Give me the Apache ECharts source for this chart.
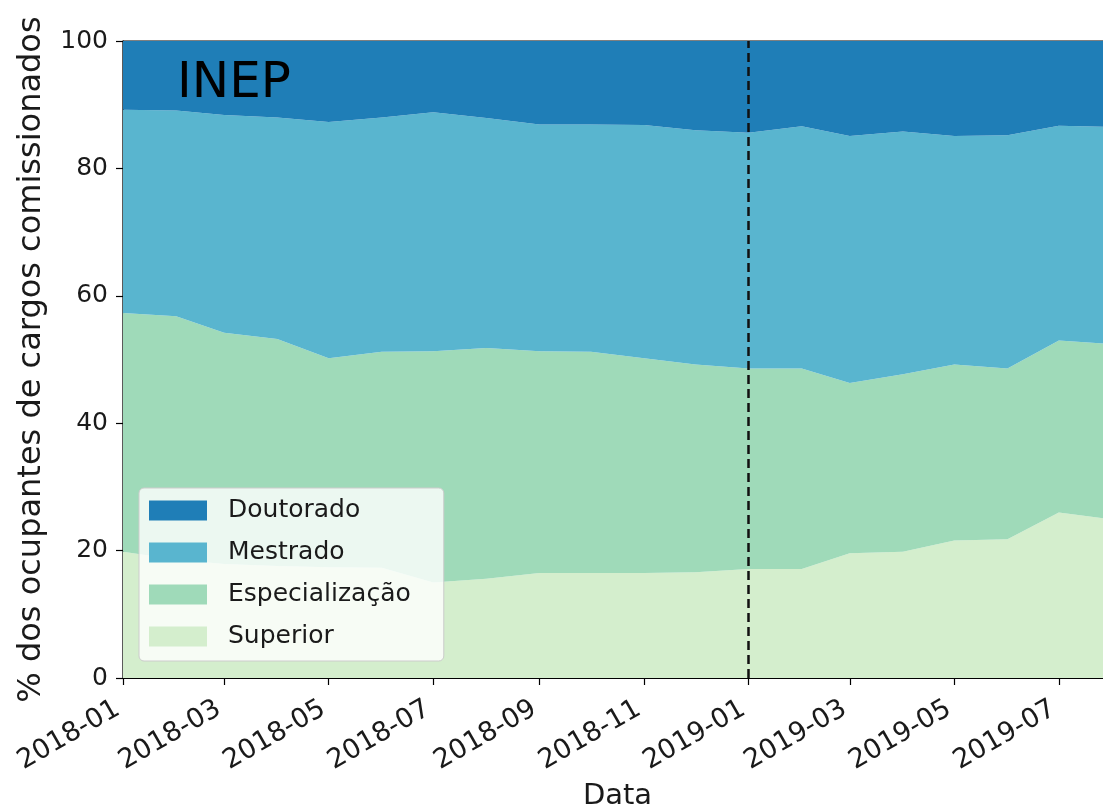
<!DOCTYPE html>
<html>
<head>
<meta charset="utf-8">
<script src="https://cdn.jsdelivr.net/npm/echarts@6/dist/echarts.min.js"></script>
<style>
html,body{margin:0;padding:0;background:#fff;overflow:hidden;}
#chart{width:1103px;height:807px;}
</style>
</head>
<body>
<div id="chart"></div>
<script>
// ---- data ----
const months = ['2018-01-01','2018-02-01','2018-03-01','2018-04-01','2018-05-01','2018-06-01','2018-07-01','2018-08-01','2018-09-01','2018-10-01','2018-11-01','2018-12-01','2019-01-01','2019-02-01','2019-03-01','2019-04-01','2019-05-01','2019-06-01','2019-07-01','2019-08-01'];
const superior = [19.8,18.6,17.9,17.6,17.4,17.3,15.0,15.6,16.5,16.5,16.5,16.6,17.1,17.1,19.6,19.8,21.6,21.8,26.0,24.9];
const especializacao = [37.5,38.2,36.3,35.6,32.8,33.9,36.3,36.2,34.8,34.7,33.7,32.6,31.5,31.5,26.7,27.9,27.6,26.8,27.0,27.5];
const mestrado = [31.9,32.3,34.2,34.8,37.1,36.8,37.5,36.1,35.6,35.7,36.6,36.8,37.0,38.0,38.8,38.1,35.9,36.6,33.7,34.1];
const doutorado = [10.8,10.9,11.6,12.0,12.7,12.0,11.2,12.1,13.1,13.1,13.2,14.0,14.4,13.4,14.9,14.2,14.9,14.8,13.3,13.5];
const seriesNames = ['Superior','Especialização','Mestrado','Doutorado'];
const legendOrder = ['Doutorado','Mestrado','Especialização','Superior'];
const yTicks = [0,20,40,60,80,100];
const markDate = '2019-01-01';
const xMin = '2018-01-01';
const xMax = '2019-08-01';

const colors = {'Superior':'#d4eecd','Especialização':'#9fdab9','Mestrado':'#59b5cf','Doutorado':'#1f7eb7'};
const values = {'Superior':superior,'Especialização':especializacao,'Mestrado':mestrado,'Doutorado':doutorado};

const font = 'DejaVu Sans';
const chart = echarts.init(document.getElementById('chart'), null, {renderer:'canvas'});

const series = seriesNames.map((name) => {
  const s = {
    name: name,
    type: 'line',
    stack: 'total',
    showSymbol: false,
    symbol: 'none',
    lineStyle: {width: 0},
    itemStyle: {color: colors[name]},
    areaStyle: {color: colors[name], opacity: 1},
    data: months.map((m, i) => [m, values[name][i]]),
    animation: false
  };
  if (name === 'Doutorado') {
    s.markLine = {
      silent: true,
      symbol: ['none','none'],
      label: {show: false},
      lineStyle: {color: '#111', type: [9,5], width: 2.5},
      data: [{xAxis: markDate}],
      animation: false
    };
  }
  return s;
});

chart.setOption({
  animation: false,
  backgroundColor: '#fff',
  grid: {left: 123, top: 41, height: 637, width: 989, outerBoundsMode: 'none', containLabel: false, show: true, borderColor: '#000', borderWidth: 1.2, backgroundColor: 'transparent'},
  legend: {
    data: legendOrder,
    orient: 'vertical',
    left: 139, top: 488,
    itemWidth: 58, itemHeight: 20, itemGap: 17,
    icon: 'rect',
    padding: [10, 33, 12, 10],
    backgroundColor: 'rgba(255,255,255,0.8)',
    borderColor: '#cccccc', borderWidth: 1, borderRadius: 5,
    textStyle: {fontFamily: font, fontSize: 25, color: '#1a1a1a', padding: [0,0,0,16]}
  },
  xAxis: {
    type: 'time',
    min: xMin, max: xMax,
    splitNumber: 8,
    name: 'Data', nameLocation: 'middle', nameGap: 102,
    nameTextStyle: {fontFamily: font, fontSize: 29, color: '#1a1a1a'},
    axisLine: {lineStyle: {color: '#000', width: 1.2}},
    axisTick: {show: true, length: 7, lineStyle: {color: '#000', width: 1.2}},
    axisLabel: {rotate: 30, margin: 26, padding: [0, 6, 0, 0], fontFamily: font, fontSize: 27, color: '#1a1a1a', formatter: '{yyyy}-{MM}', hideOverlap: false},
    splitLine: {show: false},
    minorTick: {show: false}
  },
  yAxis: {
    type: 'value',
    min: yTicks[0], max: yTicks[yTicks.length-1], interval: 20,
    name: '% dos ocupantes de cargos comissionados', nameLocation: 'middle', nameGap: 75,
    nameTextStyle: {fontFamily: font, fontSize: 32, color: '#1a1a1a'},
    axisLine: {show: true, lineStyle: {color: '#000', width: 1.2}},
    axisTick: {show: true, length: 7, lineStyle: {color: '#000', width: 1.2}},
    axisLabel: {margin: 15, fontFamily: font, fontSize: 25, color: '#1a1a1a'},
    splitLine: {show: false}
  },
  graphic: [{
    type: 'text', left: 177, top: 59, z: 100,
    style: {text: 'INEP', fontFamily: font, fontSize: 50, fill: '#000'}
  }],
  series: series
});
</script>
</body>
</html>
